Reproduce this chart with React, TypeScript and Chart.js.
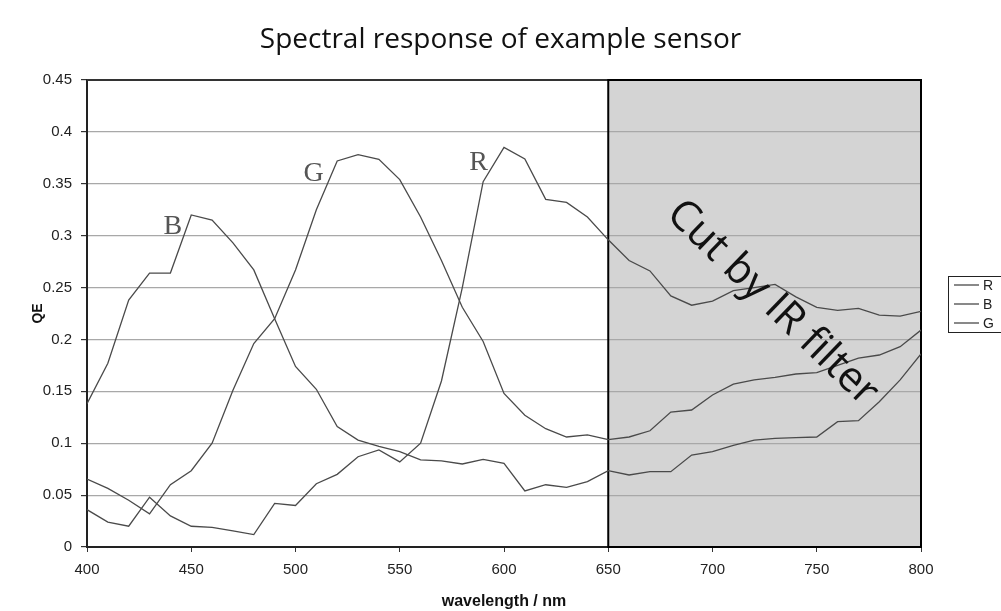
import { useEffect, useRef } from "react";
import { Chart, registerables } from "chart.js";

Chart.register(...registerables);

const chartTitle = "Spectral response of example sensor";
const xAxisTitle = "wavelength / nm";
const yAxisTitle = "QE";
const filterText = "Cut by IR filter";
const filterStart = 650;
const filterEnd = 800;

const wavelengths = [
  400, 410, 420, 430, 440, 450, 460, 470, 480, 490,
  500, 510, 520, 530, 540, 550, 560, 570, 580, 590,
  600, 610, 620, 630, 640, 650, 660, 670, 680, 690,
  700, 710, 720, 730, 740, 750, 760, 770, 780, 790, 800,
];

const seriesLabels = ["R", "B", "G"];

const rValues = [
  0.036, 0.024, 0.02, 0.048, 0.03, 0.02, 0.019, 0.0155, 0.012, 0.042,
  0.04, 0.061, 0.07, 0.087, 0.0935, 0.082, 0.1, 0.16, 0.25, 0.352,
  0.385, 0.374, 0.335, 0.332, 0.318, 0.296, 0.276, 0.266, 0.242, 0.233,
  0.237, 0.247, 0.25, 0.253, 0.241, 0.231, 0.228, 0.23, 0.2235, 0.2225, 0.227,
];

const bValues = [
  0.138, 0.177, 0.238, 0.264, 0.264, 0.32, 0.315, 0.293, 0.267, 0.22,
  0.174, 0.152, 0.116, 0.103, 0.097, 0.092, 0.084, 0.083, 0.08, 0.0845,
  0.0806, 0.054, 0.06, 0.0575, 0.063, 0.0735, 0.0694, 0.0726, 0.0726, 0.0886,
  0.0918, 0.098, 0.103, 0.1047, 0.1053, 0.106, 0.1208, 0.1217, 0.14, 0.161, 0.186,
];

const gValues = [
  0.0655, 0.0565, 0.045, 0.032, 0.06, 0.0735, 0.1, 0.151, 0.196, 0.22,
  0.267, 0.325, 0.372, 0.378, 0.3735, 0.354, 0.318, 0.276, 0.231, 0.198,
  0.148, 0.127, 0.114, 0.106, 0.108, 0.1035, 0.106, 0.112, 0.13, 0.132,
  0.1465, 0.157, 0.161, 0.1635, 0.1667, 0.168, 0.175, 0.182, 0.185, 0.193, 0.209,
];

// curve name annotations (data coordinates)
const curveNames = ["B", "G", "R"];
const curveNameX = [441.2, 508.7, 587.8];
const curveNameY = [0.309, 0.36, 0.37];

const filterTextX = 728.7;
const filterTextY = 0.235;

const LINE_COLOR = "#4a4a4a";

const decorPlugin = {
  id: "decor",
  beforeDraw(chart: any) {
    const { ctx, chartArea, scales } = chart;
    const x = scales.x;
    const x0 = x.getPixelForValue(filterStart);
    const x1 = x.getPixelForValue(filterEnd);
    ctx.save();
    ctx.fillStyle = "#ffffff";
    ctx.fillRect(0, 0, chart.width, chart.height);
    ctx.fillStyle = "#d4d4d4";
    ctx.fillRect(x0, chartArea.top, x1 - x0, chartArea.bottom - chartArea.top);
    // title
    ctx.fillStyle = "#111111";
    ctx.font = "28px 'Open Sans', 'Noto Sans', sans-serif";
    ctx.textAlign = "center";
    ctx.textBaseline = "middle";
    ctx.fillText(chartTitle, chart.width / 2, 40);
    ctx.restore();
  },
  beforeDatasetsDraw(chart: any) {
    const { ctx, chartArea, scales } = chart;
    const x = scales.x;
    const x0 = x.getPixelForValue(filterStart);
    const x1 = x.getPixelForValue(filterEnd);
    ctx.save();
    ctx.strokeStyle = "#333333";
    ctx.lineWidth = 2;
    ctx.beginPath();
    ctx.moveTo(chartArea.left, chartArea.top);
    ctx.lineTo(chartArea.right, chartArea.top);
    ctx.stroke();
    ctx.strokeStyle = "#000000";
    ctx.lineWidth = 2;
    ctx.strokeRect(x0, chartArea.top, x1 - x0, chartArea.bottom - chartArea.top);
    ctx.restore();
  },
  afterDatasetsDraw(chart: any) {
    const { ctx, scales } = chart;
    const x = scales.x;
    const y = scales.y;
    ctx.save();
    ctx.fillStyle = "#555555";
    ctx.font = "28px 'Liberation Serif', 'DejaVu Serif', serif";
    ctx.textAlign = "center";
    ctx.textBaseline = "middle";
    curveNames.forEach((name, i) => {
      ctx.fillText(name, x.getPixelForValue(curveNameX[i]), y.getPixelForValue(curveNameY[i]));
    });
    ctx.translate(x.getPixelForValue(filterTextX), y.getPixelForValue(filterTextY));
    ctx.rotate((44 * Math.PI) / 180);
    ctx.fillStyle = "#111111";
    ctx.font = "42px 'Open Sans', 'Noto Sans', sans-serif";
    ctx.fillText(filterText, 0, 0);
    ctx.restore();
  },
  afterDraw(chart: any) {
    const { ctx, chartArea } = chart;
    const left = chartArea.right + 27;
    const top = 276;
    const rowH = 19;
    const n = chart.data.datasets.length;
    ctx.save();
    ctx.strokeStyle = "#222222";
    ctx.lineWidth = 1;
    ctx.strokeRect(left + 0.5, top + 0.5, 80, rowH * n - 1);
    ctx.font = "14px 'Liberation Sans', Arial, sans-serif";
    ctx.textAlign = "left";
    ctx.textBaseline = "middle";
    chart.data.datasets.forEach((ds: any, i: number) => {
      const yy = top + 9 + i * rowH;
      ctx.strokeStyle = ds.borderColor;
      ctx.lineWidth = 1.3;
      ctx.beginPath();
      ctx.moveTo(left + 6, yy);
      ctx.lineTo(left + 31, yy);
      ctx.stroke();
      ctx.fillStyle = "#222222";
      ctx.fillText(ds.label, left + 35, yy + 1);
    });
    ctx.restore();
  },
};

export default function App() {
  const canvasRef = useRef<HTMLCanvasElement | null>(null);

  useEffect(() => {
    if (!canvasRef.current) return;
    const valuesList = [rValues, bValues, gValues];
    const datasets = seriesLabels.map((label, i) => ({
      label,
      data: wavelengths.map((w, j) => ({ x: w, y: valuesList[i][j] })),
      borderColor: LINE_COLOR,
      backgroundColor: LINE_COLOR,
      borderWidth: 1.3,
      pointRadius: 0,
      tension: 0,
      fill: false,
    }));

    const tickFont = { family: "'Liberation Sans', Arial, sans-serif", size: 15 };

    const chart = new Chart(canvasRef.current, {
      type: "line",
      data: { datasets },
      options: {
        animation: false,
        responsive: false,
        maintainAspectRatio: false,
        layout: { padding: { top: 80, right: 80, left: 0, bottom: 0 } },
        plugins: {
          legend: { display: false },
          title: { display: false },
          tooltip: { enabled: false },
        },
        scales: {
          x: {
            type: "linear",
            min: 400,
            max: 800,
            afterFit: (s: any) => {
              s.height = 64;
            },
            ticks: {
              stepSize: 50,
              font: tickFont,
              color: "#222222",
              padding: 9,
              maxRotation: 0,
            },
            grid: {
              drawOnChartArea: false,
              drawTicks: true,
              tickLength: 5,
              tickColor: "#333333",
            },
            border: { display: true, color: "#222222", width: 2 },
            title: {
              display: true,
              text: xAxisTitle,
              color: "#111111",
              font: { family: "'Liberation Sans', Arial, sans-serif", size: 16, weight: "bold" },
              padding: { top: 0, bottom: 0 },
            },
          },
          y: {
            type: "linear",
            min: 0,
            max: 0.45,
            afterFit: (s: any) => {
              s.width = 87;
            },
            ticks: {
              stepSize: 0.05,
              font: tickFont,
              color: "#222222",
              padding: 9,
              callback: (v: any) => Number(v).toFixed(2).replace(/\.?0+$/, ""),
            },
            grid: {
              color: "#a8a8a8",
              lineWidth: 1.2,
              drawTicks: true,
              tickLength: 6,
              tickColor: "#333333",
            },
            border: { display: true, color: "#222222", width: 2 },
            title: {
              display: true,
              text: yAxisTitle,
              color: "#111111",
              font: { family: "'Liberation Sans', Arial, sans-serif", size: 14, weight: "bold" },
              padding: { top: 30, bottom: 0 },
            },
          },
        },
      },
      plugins: [decorPlugin],
    } as any);

    return () => chart.destroy();
  }, []);

  return (
    <div style={{ position: "absolute", left: 0, top: 0, width: 1001, height: 611 }}>
      <canvas ref={canvasRef} width={1001} height={611} />
    </div>
  );
}
